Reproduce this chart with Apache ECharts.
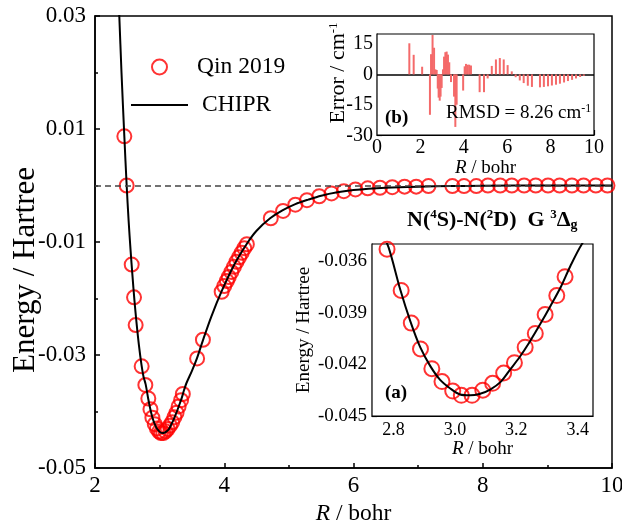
<!DOCTYPE html>
<html><head><meta charset="utf-8">
<script src="https://cdn.jsdelivr.net/npm/echarts@6/dist/echarts.min.js"></script>
<style>html,body{margin:0;padding:0;background:#fff}#c{width:622px;height:526px}</style>
</head><body><div id="c"></div>
<script>
// ---------- data ----------
const mainXTicks = [2, 4, 6, 8, 10];
const mainYTicks = [-0.05, -0.03, -0.01, 0.01, 0.03];
const insetAXTicks = [2.8, 3.0, 3.2, 3.4];
const insetAYTicks = [-0.045, -0.042, -0.039, -0.036];
const insetBXTicks = [0, 2, 4, 6, 8, 10];
const insetBYTicks = [-30, -15, 0, 15];

const qinR = [2.454, 2.490, 2.568, 2.604, 2.629, 2.722,
  2.779, 2.825, 2.858, 2.888, 2.925, 2.958, 2.993, 3.021, 3.056, 3.091, 3.123, 3.159, 3.194, 3.229, 3.262, 3.294, 3.332, 3.359,
  3.580, 3.670,
  3.96, 4.00, 4.04, 4.07, 4.11, 4.15, 4.19, 4.23, 4.27, 4.31, 4.35,
  4.72, 4.91, 5.10, 5.28, 5.47, 5.66, 5.85, 6.03, 6.22, 6.41, 6.60, 6.79, 6.97, 7.16,
  7.53, 7.71, 7.90, 8.08, 8.27, 8.45, 8.64, 8.82, 9.01, 9.19, 9.38, 9.56, 9.75, 9.93];
const qinE = [0.0087, 0.0000, -0.0140, -0.0198, -0.0247, -0.0320,
  -0.0353, -0.0377, -0.0396, -0.0411, -0.04225, -0.0430, -0.04355, -0.0438, -0.0438, -0.0435, -0.0431, -0.0425, -0.0419, -0.0410, -0.0402, -0.0391, -0.0380, -0.0369,
  -0.0306, -0.0273,
  -0.0188, -0.0178, -0.0169, -0.0162, -0.0153, -0.0144, -0.0135, -0.0127, -0.0119, -0.0111, -0.0104,
  -0.0058, -0.0045, -0.0034, -0.0026, -0.0019, -0.0014, -0.0010, -0.0007, -0.0005, -0.0004, -0.0003, -0.0002, -0.0002, -0.0001,
  -0.0001, -0.0001, -0.0001, 0, 0, 0, 0, 0, 0, 0, 0, 0, 0, 0];

const chiprR = [2.35, 2.376, 2.41, 2.454, 2.49, 2.52, 2.55, 2.58, 2.61, 2.64, 2.68, 2.72, 2.75, 2.784, 2.822, 2.855, 2.887, 2.92, 2.952, 2.985, 3.017, 3.05, 3.08, 3.115, 3.15, 3.18, 3.21, 3.245, 3.28, 3.311, 3.345, 3.376, 3.414, 3.5, 3.58, 3.67, 3.8, 3.96, 4.15, 4.35, 4.5, 4.71, 4.9, 5.1, 5.3, 5.5, 5.75, 6.0, 6.5, 7.0, 7.5, 8.0, 9.0, 10.0];
const chiprE = [0.037, 0.030, 0.020, 0.0087, 0.0, -0.0062, -0.0114, -0.0160, -0.0203, -0.0240, -0.0283, -0.0318, -0.0338, -0.0352, -0.03765, -0.0395, -0.0410, -0.0421, -0.0429, -0.0434, -0.04375, -0.0438, -0.04372, -0.04346, -0.0430, -0.0423, -0.0416, -0.04065, -0.0396, -0.03862, -0.0375, -0.03629, -0.0350, -0.0328, -0.0305, -0.0274, -0.0232, -0.0187, -0.0141, -0.0103, -0.0080, -0.0058, -0.0044, -0.0033, -0.0025, -0.0018, -0.0012, -0.0008, -0.0004, -0.0002, -0.0001, -0.00005, 0, 0];

const errR = [1.49,1.69,2.08,2.44,2.49,2.56,2.63,2.69,2.75,2.80,2.84,2.89,2.93,2.98,3.04,3.09,3.15,3.21,3.27,3.33,3.41,3.55,3.61,3.67,3.97,4.04,4.10,4.18,4.25,4.33,4.73,4.93,5.10,5.29,5.48,5.66,5.84,6.02,6.21,6.39,6.58,6.76,6.95,7.14,7.51,7.69,7.88,8.06,8.25,8.43,8.62,8.80,8.99,9.17,9.36,9.53];
const errV = [15.4,9.7,3.8,-20,10,19.5,13.2,2.5,2.2,-7,-11.5,-13,-11,-6.7,2.5,8.8,11,11.3,9.8,6,-3.8,-11,-26,-15,-8,4,5.2,4.8,4.8,4.4,-8.8,-8.8,-2,4.2,7.4,8.1,7.4,4.6,1.5,-1.4,-3,-4.3,-5.6,-6.2,-6.4,-6.2,-5.9,-5.5,-5.1,-4.6,-4,-3.3,-2.7,-2,-1.3,-0.7];

// ---------- chart ----------
const FONT = '"Liberation Serif", "Times New Roman", serif';
const pts = (xs, ys) => xs.map((x, i) => [x, ys[i]]);
const RED = '#ff0000';
const italicRich = (fs) => ({ i: { fontStyle: 'italic', fontFamily: FONT, fontSize: fs, color: '#000' }, n: { fontFamily: FONT, fontSize: fs, color: '#000' } });

function axisBase(w) {
  return {
    axisLine: { show: true, onZero: false, lineStyle: { color: '#000', width: w } },
    axisTick: { show: true, inside: true, length: 5, lineStyle: { color: '#000', width: w } },
    splitLine: { show: false },
  };
}

const gridB = { left: 377, top: 34, width: 217, height: 101 };

const option = {
  animation: false,
  backgroundColor: '#fff',
  grid: [
    { left: 95, top: 16, width: 517, height: 452, show: true, borderColor: '#000', borderWidth: 1.5, backgroundColor: 'transparent', containLabel: false, outerBoundsMode: 'none' },
    { left: 372, top: 244, width: 221, height: 172, show: true, borderColor: '#000', borderWidth: 1.2, backgroundColor: '#fff', z: 5, outerBoundsMode: 'none' },
    Object.assign({ show: true, borderColor: '#000', borderWidth: 1.2, backgroundColor: '#fff', z: 5, outerBoundsMode: 'none' }, gridB),
  ],
  xAxis: [
    Object.assign(axisBase(1.5), {
      type: 'value', gridIndex: 0, min: mainXTicks[0], max: mainXTicks[mainXTicks.length - 1], interval: 2,
      minorTick: { show: true, splitNumber: 2, length: 3, lineStyle: { color: '#000', width: 1.5 } },
      axisLabel: { fontFamily: FONT, fontSize: 23, color: '#000', margin: 6, formatter: v => String(v) },
      name: '{i|R}{n| / bohr}', nameLocation: 'middle', nameGap: 32,
      nameTextStyle: { rich: italicRich(23.5) },
    }),
    Object.assign(axisBase(1.2), {
      type: 'value', gridIndex: 1, min: 2.73, max: 3.45,
      axisTick: { show: true, inside: true, length: 5, customValues: insetAXTicks, lineStyle: { color: '#000', width: 1.2 } },
      axisLabel: { customValues: insetAXTicks, fontFamily: FONT, fontSize: 18, color: '#000', margin: 5, formatter: v => v.toFixed(1) },
      name: '{i|R}{n| / bohr}', nameLocation: 'middle', nameGap: 22,
      nameTextStyle: { rich: italicRich(19) },
    }),
    Object.assign(axisBase(1.2), {
      type: 'value', gridIndex: 2, min: insetBXTicks[0], max: insetBXTicks[insetBXTicks.length - 1], interval: 2,
      minorTick: { show: true, splitNumber: 2, length: 3, lineStyle: { color: '#000', width: 1.2 } },
      axisLabel: { fontFamily: FONT, fontSize: 20, color: '#000', margin: 3, formatter: v => String(v) },
      name: '{i|R}{n| / bohr}', nameLocation: 'middle', nameGap: 20,
      nameTextStyle: { rich: italicRich(19) },
    }),
  ],
  yAxis: [
    Object.assign(axisBase(1.5), {
      type: 'value', gridIndex: 0, min: mainYTicks[0], max: mainYTicks[mainYTicks.length - 1], interval: 0.02,
      minorTick: { show: true, splitNumber: 2, length: 3, lineStyle: { color: '#000', width: 1.5 } },
      axisLabel: { fontFamily: FONT, fontSize: 23, color: '#000', margin: 9, formatter: v => v.toFixed(2) },
    }),
    Object.assign(axisBase(1.2), {
      type: 'value', gridIndex: 1, min: insetAYTicks[0], max: -0.035, interval: 0.003,
      axisLabel: { fontFamily: FONT, fontSize: 19, color: '#000', margin: 5, showMaxLabel: false, showMinLabel: true, formatter: v => v.toFixed(3) },
      name: 'Energy / Hartree', nameLocation: 'middle', nameGap: 58,
      nameTextStyle: { fontFamily: FONT, fontSize: 19, color: '#000' },
    }),
    Object.assign(axisBase(1.2), {
      type: 'value', gridIndex: 2, min: insetBYTicks[0], max: 20,
      axisTick: { show: true, inside: true, length: 5, customValues: insetBYTicks, lineStyle: { color: '#000', width: 1.2 } },
      axisLabel: { customValues: insetBYTicks.slice(1), fontFamily: FONT, fontSize: 20, color: '#000', margin: 4, formatter: v => String(v) },
    }),
  ],
  legend: {
    left: 125, top: 50, orient: 'vertical', itemWidth: 57, itemHeight: 15, itemGap: 14,
    textStyle: { fontFamily: FONT, fontSize: 23.5, color: '#000', padding: [0, 0, 0, 4] },
    data: [
      { name: 'Qin 2019', icon: 'circle', itemStyle: { color: '#fff', borderColor: RED, borderWidth: 2 } },
      { name: 'CHIPR', icon: 'inherit', itemStyle: { color: 'rgba(0,0,0,0)', borderColor: 'rgba(0,0,0,0)', borderWidth: 0, opacity: 0 }, lineStyle: { color: '#000', width: 2, opacity: 1 }, textStyle: { padding: [0, 0, 0, 9] } },
    ],
  },
  series: [
    {
      name: 'Qin 2019', type: 'scatter', xAxisIndex: 0, yAxisIndex: 0, z: 3,
      symbol: 'circle', symbolSize: 14,
      itemStyle: { color: 'rgba(255,255,255,0)', borderColor: RED, borderWidth: 2 },
      data: pts(qinR, qinE),
      markLine: {
        silent: true, symbol: 'none', label: { show: false }, animation: false,
        lineStyle: { type: [6, 4], color: '#444', width: 1.5 },
        data: [{ yAxis: 0 }],
      },
    },
    {
      name: 'CHIPR', type: 'line', xAxisIndex: 0, yAxisIndex: 0, z: 4,
      smooth: 0.3, symbol: 'none', showSymbol: false,
      lineStyle: { color: '#000', width: 2 }, itemStyle: { color: '#000' },
      data: pts(chiprR, chiprE),
    },
    {
      name: 'Qin 2019', type: 'scatter', xAxisIndex: 1, yAxisIndex: 1, z: 6, clip: true,
      symbol: 'circle', symbolSize: 15,
      itemStyle: { color: 'rgba(255,255,255,0)', borderColor: RED, borderWidth: 2 },
      data: pts(qinR, qinE),
    },
    {
      name: 'CHIPR', type: 'line', xAxisIndex: 1, yAxisIndex: 1, z: 7, clip: true,
      smooth: 0.3, symbol: 'none', showSymbol: false,
      lineStyle: { color: '#000', width: 2 }, itemStyle: { color: '#000' },
      data: pts(chiprR, chiprE),
    },
    {
      name: 'Error', type: 'bar', xAxisIndex: 2, yAxisIndex: 2, z: 6, barWidth: 2,
      itemStyle: { color: '#f46a6a' },
      data: pts(errR, errV),
      markLine: {
        silent: true, symbol: 'none', label: { show: false }, animation: false,
        lineStyle: { type: 'solid', color: '#000', width: 1.5 },
        data: [{ yAxis: 0 }],
      },
    },
  ],
  graphic: [
    {
      type: 'text', x: 26, y: 270, rotation: Math.PI / 2, z: 10,
      style: { text: 'Energy / Hartree', fontFamily: FONT, fontSize: 31, fill: '#000', align: 'center', verticalAlign: 'middle' },
    },
    {
      // bottom tick label of inset (b); ECharts drops it where it touches the x label "0"
      type: 'text', x: 373, y: 136, z: 10,
      style: { text: String(insetBYTicks[0]), fontFamily: FONT, fontSize: 20, fill: '#000', align: 'right', verticalAlign: 'middle' },
    },
    {
      type: 'text', x: 338, y: 73, rotation: Math.PI / 2, z: 10,
      style: {
        text: '{n|Error / cm}{s|-1}', align: 'center', verticalAlign: 'middle',
        rich: {
          n: { fontFamily: FONT, fontSize: 22, fill: '#000', lineHeight: 22 },
          s: { fontFamily: FONT, fontSize: 13, fill: '#000', verticalAlign: 'top', lineHeight: 10 },
        },
      },
    },
    {
      type: 'text', x: 407, y: 220, z: 10,
      style: {
        text: '{n|N(}{s|4}{n|S)-N(}{s|2}{n|D)  G }{s|3}{n|Δ}{b|g}',
        verticalAlign: 'middle', align: 'left',
        rich: {
          n: { fontFamily: FONT, fontSize: 22, fontWeight: 'bold', fill: '#000', lineHeight: 24 },
          s: { fontFamily: FONT, fontSize: 13, fontWeight: 'bold', fill: '#000', verticalAlign: 'top', lineHeight: 10 },
          b: { fontFamily: FONT, fontSize: 14, fontWeight: 'bold', fill: '#000', verticalAlign: 'bottom', lineHeight: 8 },
        },
      },
    },
    {
      type: 'text', x: 385, y: 393, z: 10,
      style: { text: '(a)', fontFamily: FONT, fontSize: 19, fontWeight: 'bold', fill: '#000', verticalAlign: 'middle', align: 'left' },
    },
    {
      type: 'text', x: 385, y: 118, z: 10,
      style: { text: '(b)', fontFamily: FONT, fontSize: 19, fontWeight: 'bold', fill: '#000', verticalAlign: 'middle', align: 'left' },
    },
    {
      type: 'text', x: 446, y: 113, z: 10,
      style: {
        text: '{n|RMSD = 8.26 cm}{s|-1}', verticalAlign: 'middle', align: 'left',
        rich: {
          n: { fontFamily: FONT, fontSize: 19, fill: '#000', lineHeight: 20 },
          s: { fontFamily: FONT, fontSize: 12, fill: '#000', verticalAlign: 'top', lineHeight: 10 },
        },
      },
    },
  ],
};

const chart = echarts.init(document.getElementById('c'), null, { renderer: 'canvas' });
chart.setOption(option);
</script>
</body></html>
